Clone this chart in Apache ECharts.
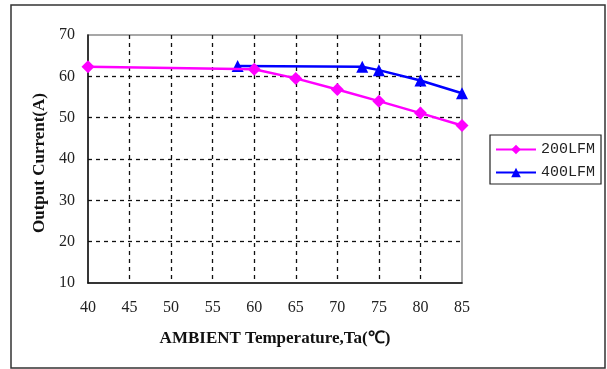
<!DOCTYPE html>
<html><head><meta charset="utf-8">
<script src="https://cdn.jsdelivr.net/npm/echarts@6/dist/echarts.min.js"></script>
<style>html,body{margin:0;padding:0;background:#fff}#c{width:607px;height:369px}</style>
</head><body><div id="c"></div>
<script>
var x200 = [40, 60, 65, 70, 75, 80, 85];
var y200 = [62.3, 61.7, 59.5, 56.8, 54.0, 51.1, 48.1];
var x400 = [58, 73, 75, 80, 85];
var y400 = [62.5, 62.3, 61.5, 59.0, 55.9];
var xTicks = [40, 45, 50, 55, 60, 65, 70, 75, 80, 85];
var yTicks = [10, 20, 30, 40, 50, 60, 70];
var names = ['200LFM', '400LFM'];

function pairs(xs, ys){ return xs.map(function(v,i){return [v, ys[i]];}); }
var chart = echarts.init(document.getElementById('c'));
var serif = '"Liberation Serif", "Times New Roman", serif';
chart.setOption({
  animation: false,
  backgroundColor: '#fff',
  graphic: [{type:'rect', shape:{x:11, y:5, width:594, height:363}, style:{fill:'none', stroke:'#333', lineWidth:1.5}, silent:true}],
  grid: {left: 88, top: 35, width: 374, height: 248, show: true, borderColor: '#8a8a8a', borderWidth: 1.5, backgroundColor: 'transparent'},
  legend: {
    data: names, orient: 'vertical', left: 490, top: 135,
    padding: [7, 6, 4, 5], itemGap: 8, itemWidth: 40, itemHeight: 12,
    borderColor: '#222', borderWidth: 1.2,
    textStyle: {fontFamily: '"Liberation Mono", monospace', fontSize: 15, color: '#222'}
  },
  xAxis: {
    type: 'value', min: 40, max: 85, interval: 5,
    name: 'AMBIENT Temperature,Ta(\u2103)', nameLocation: 'middle', nameGap: 47,
    nameTextStyle: {fontFamily: serif, fontWeight: 'bold', fontSize: 17, color: '#111'},
    axisLine: {show: true, lineStyle: {color: '#111', width: 1.5}},
    axisTick: {show: false},
    axisLabel: {fontFamily: serif, fontSize: 16, color: '#222', margin: 17,
      formatter: function(v){ return xTicks.indexOf(v) >= 0 ? String(v) : ''; }},
    splitLine: {show: true, showMinLine: false, showMaxLine: false, lineStyle: {color: '#111', type: [4, 4], width: 1.3}}
  },
  yAxis: {
    type: 'value', min: 10, max: 70, interval: 10,
    name: 'Output Current(A)', nameLocation: 'middle', nameGap: 39,
    nameTextStyle: {fontFamily: serif, fontWeight: 'bold', fontSize: 17, color: '#111', padding: [0, 8, 0, 0]},
    axisLine: {show: true, lineStyle: {color: '#111', width: 1.5}},
    axisTick: {show: false},
    axisLabel: {fontFamily: serif, fontSize: 16, color: '#222', margin: 13,
      formatter: function(v){ return yTicks.indexOf(v) >= 0 ? String(v) : ''; }},
    splitLine: {show: true, showMinLine: false, showMaxLine: false, lineStyle: {color: '#111', type: [4, 4], width: 1.3}}
  },
  series: [
    {name: names[0], type: 'line', data: pairs(x200, y200), symbol: 'diamond', symbolSize: 13,
     itemStyle: {color: '#FF00FF'}, lineStyle: {color: '#FF00FF', width: 2.5}, z: 3},
    {name: names[1], type: 'line', data: pairs(x400, y400), symbol: 'triangle', symbolSize: 12,
     itemStyle: {color: '#0000FF'}, lineStyle: {color: '#0000FF', width: 2.5}, z: 2}
  ]
});
</script></body></html>
